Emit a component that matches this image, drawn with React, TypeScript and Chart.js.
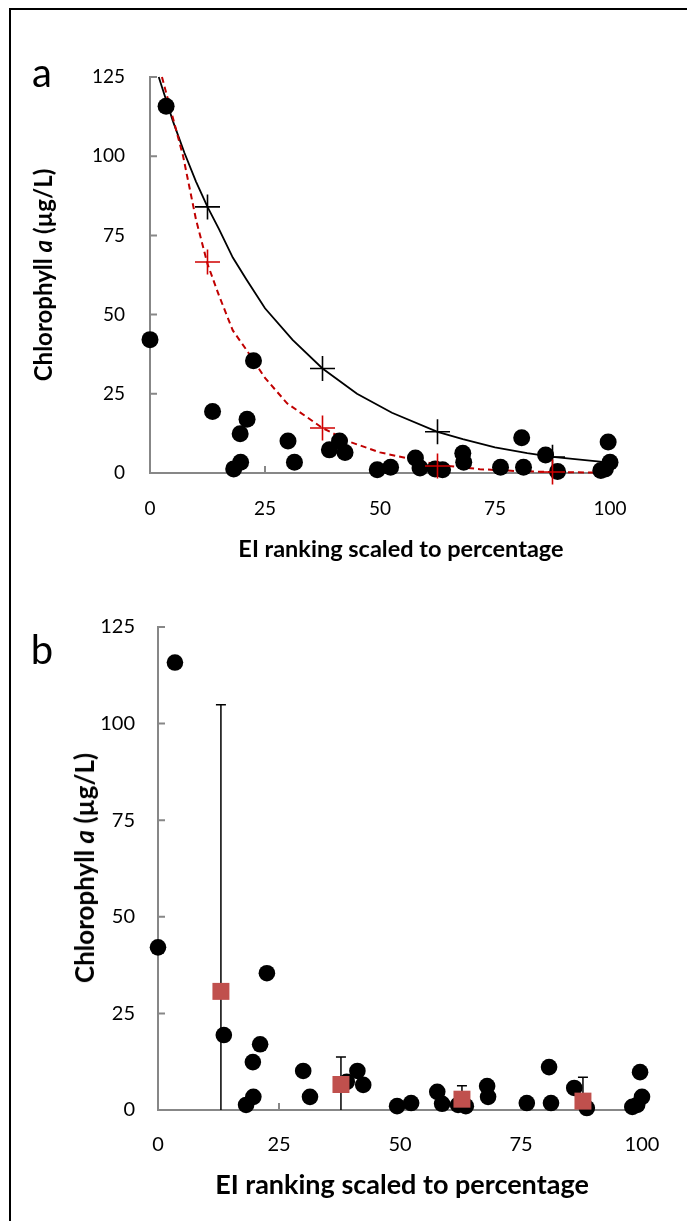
import React, { useEffect, useRef } from 'react';
import { Chart, registerables } from 'chart.js';

Chart.register(...registerables);

const FONT = 'Lato, "Open Sans", sans-serif';
const AXIS_COLOR = '#878787';

// ---- text ----
const xAxisTitle = 'EI ranking scaled to percentage';
const yTitleLead = 'Chlorophyll ';
const yTitleItalic = 'a';
const yTitleTail = ' (µg/L)';
const panelLetters = ['a', 'b'];

// ---- tick labels ----
const xTickValues = [0, 25, 50, 75, 100];
const yTickValues = [0, 25, 50, 75, 100, 125];

// ---- observed sites (both panels) ----
const siteX = [0, 3.5, 13.6, 18.2, 19.7, 19.6, 21.1, 22.5, 30, 31.4, 39, 41.2, 42.4, 49.4, 52.3, 57.7, 58.7, 62, 63.6, 68, 68.2, 76.2, 80.8, 81.2, 86, 88.6, 98, 99, 99.6, 100];
const siteY = [42.1, 115.8, 19.4, 1.3, 3.4, 12.4, 17, 35.4, 10.1, 3.4, 7.3, 10.1, 6.5, 1.0, 1.8, 4.7, 1.6, 1.3, 1.0, 6.2, 3.4, 1.8, 11.1, 1.8, 5.7, 0.5, 0.8, 1.3, 9.8, 3.4];

// ---- panel a: fitted curves ----
const blackCurveX = [1.9, 5, 7.5, 10, 12.5, 15, 18, 21, 25, 31, 37.5, 45, 52.6, 62.5, 68, 75, 82, 87.5, 100];
const blackCurveY = [125, 111, 101, 92, 84, 77, 68, 61, 52, 42, 33, 25, 19, 13, 10.7, 8.1, 6.3, 5.1, 3.3];
const redCurveX = [2.6, 5, 7.2, 10, 12.5, 15, 18, 21, 25, 29.8, 37.5, 43.5, 50, 55.8, 62.5, 71.7, 80, 87.5, 100];
const redCurveY = [125, 112, 100, 80, 66, 56, 45, 38.8, 30, 22, 14.2, 9.8, 6.5, 4.7, 2.6, 1.2, 0.6, 0.3, 0.1];
const binX = [12.5, 37.5, 62.5, 87.5];
const blackFitY = [84, 33, 13, 5];
const redFitY = [66.6, 14.2, 2.2, 0.3];

// ---- panel b: bin means with error ----
const meanX = [13, 37.8, 62.8, 87.8];
const meanY = [30.7, 6.6, 2.8, 2.3];
const meanErr = [74.2, 7.1, 3.5, 6.2];

const pts = (xs: number[], ys: number[]) => xs.map((x, i) => ({ x, y: ys[i] }));

type Geo = {
  w: number; h: number; top: number; right: number;
  yWidth: number; xHeight: number;
  tickSize: number; xTickPad: number; yTickPad: number;
};

const insideTicks = {
  id: 'insideTicks',
  beforeDatasetsDraw(chart: any) {
    const { ctx, chartArea, scales } = chart;
    const xs = scales.x, ys = scales.y;
    ctx.save();
    ctx.strokeStyle = AXIS_COLOR;
    ctx.lineWidth = 2;
    ctx.beginPath();
    xs.ticks.forEach((t: any) => {
      const px = xs.getPixelForValue(t.value);
      ctx.moveTo(px, chartArea.bottom);
      ctx.lineTo(px, chartArea.bottom - 7);
    });
    ys.ticks.forEach((t: any) => {
      const py = ys.getPixelForValue(t.value);
      ctx.moveTo(chartArea.left, py);
      ctx.lineTo(chartArea.left + 7, py);
    });
    ctx.stroke();
    ctx.restore();
  },
};

const errorBars = {
  id: 'errorBars',
  beforeDatasetsDraw(chart: any) {
    if (chart.canvas.dataset.panel !== 'b') return;
    const { ctx, chartArea, scales } = chart;
    const xs = scales.x, ys = scales.y;
    ctx.save();
    ctx.strokeStyle = '#000';
    ctx.lineWidth = 1.5;
    meanX.forEach((mx, i) => {
      const px = xs.getPixelForValue(mx);
      const hi = meanY[i] + meanErr[i];
      const lo = meanY[i] - meanErr[i];
      const pyHi = ys.getPixelForValue(hi);
      const pyLo = Math.min(ys.getPixelForValue(lo), chartArea.bottom);
      ctx.beginPath();
      ctx.moveTo(px, pyLo);
      ctx.lineTo(px, pyHi);
      ctx.moveTo(px - 5, pyHi);
      ctx.lineTo(px + 5, pyHi);
      if (lo >= 0) {
        ctx.moveTo(px - 5, pyLo);
        ctx.lineTo(px + 5, pyLo);
      }
      ctx.stroke();
    });
    ctx.restore();
  },
};

function makeScales(g: Geo) {
  return {
    x: {
      type: 'linear',
      min: 0,
      max: 100,
      afterBuildTicks: (s: any) => { s.ticks = xTickValues.map((v) => ({ value: v })); },
      grid: { display: false },
      border: { display: true, color: AXIS_COLOR, width: 2 },
      ticks: { color: '#000', font: { family: FONT, size: g.tickSize }, padding: g.xTickPad, maxRotation: 0, autoSkip: false },
      title: { display: false, text: xAxisTitle },
      afterFit: (s: any) => { s.height = g.xHeight; s.paddingLeft = 0; s.paddingRight = 0; },
    },
    y: {
      type: 'linear',
      min: 0,
      max: 125,
      afterBuildTicks: (s: any) => { s.ticks = yTickValues.map((v) => ({ value: v })); },
      grid: { display: false },
      border: { display: true, color: AXIS_COLOR, width: 2 },
      ticks: { color: '#000', font: { family: FONT, size: g.tickSize }, padding: g.yTickPad, autoSkip: false },
      afterFit: (s: any) => { s.width = g.yWidth; s.paddingTop = 0; s.paddingBottom = 0; },
    },
  };
}

function makeConfig(panel: string, g: Geo): any {
  const common = {
    animation: false,
    responsive: false,
    devicePixelRatio: 1,
    events: [],
    layout: { padding: { top: g.top, right: g.right, left: 0, bottom: 0 } },
    plugins: { legend: { display: false }, tooltip: { enabled: false }, title: { display: false } },
    scales: makeScales(g),
  };
  const sites = {
    label: 'sites',
    data: pts(siteX, siteY),
    showLine: false,
    pointStyle: 'circle',
    pointRadius: panel === 'a' ? 8.5 : 8.3,
    pointBackgroundColor: '#000',
    pointBorderColor: '#000',
    pointBorderWidth: 0,
    clip: false,
    order: 1,
  };
  let datasets: any[];
  if (panel === 'a') {
    datasets = [
      {
        label: 'red fit points',
        data: pts(binX, redFitY),
        showLine: false,
        pointStyle: 'cross',
        pointRadius: 12.5,
        pointBorderColor: '#D00000',
        pointBorderWidth: 1.6,
        clip: false,
        order: 0,
      },
      sites,
      {
        label: 'red curve',
        data: pts(redCurveX, redCurveY),
        showLine: true,
        borderColor: '#C00000',
        borderWidth: 2,
        borderDash: [6, 4],
        pointRadius: 0,
        tension: 0,
        fill: false,
        clip: false,
        order: 2,
      },
      {
        label: 'black fit points',
        data: pts(binX, blackFitY),
        showLine: false,
        pointStyle: 'cross',
        pointRadius: 12.5,
        pointBorderColor: '#000',
        pointBorderWidth: 1.6,
        clip: false,
        order: 3,
      },
      {
        label: 'black curve',
        data: pts(blackCurveX, blackCurveY),
        showLine: true,
        borderColor: '#000',
        borderWidth: 1.8,
        pointRadius: 0,
        tension: 0,
        fill: false,
        clip: false,
        order: 4,
      },
    ];
  } else {
    datasets = [
      {
        label: 'bin means',
        data: pts(meanX, meanY),
        showLine: false,
        pointStyle: 'rect',
        pointRadius: 12,
        pointBackgroundColor: '#C0504D',
        pointBorderColor: '#C0504D',
        pointBorderWidth: 0,
        clip: false,
        order: 0,
      },
      sites,
    ];
  }
  return { type: 'scatter', data: { datasets }, options: common, plugins: [insideTicks, errorBars] };
}

const geoA: Geo = {
  w: 687, h: 600, top: 77, right: 77, yWidth: 150, xHeight: 127,
  tickSize: 19, xTickPad: 16, yTickPad: 17,
};
const geoB: Geo = {
  w: 687, h: 621, top: 27, right: 45, yWidth: 158, xHeight: 111,
  tickSize: 20, xTickPad: 15, yTickPad: 15,
};

function Panel({ panel, g, top }: { panel: string; g: Geo; top: number }) {
  const ref = useRef<HTMLCanvasElement | null>(null);
  useEffect(() => {
    if (!ref.current) return;
    const chart = new Chart(ref.current, makeConfig(panel, g));
    return () => chart.destroy();
  }, [panel, g]);
  return (
    <canvas
      ref={ref}
      data-panel={panel}
      width={g.w}
      height={g.h}
      style={{ position: 'absolute', left: 0, top, width: g.w, height: g.h, display: 'block' }}
    />
  );
}

function YTitle({ cx, cy, size }: { cx: number; cy: number; size: number }) {
  return (
    <div
      style={{
        position: 'absolute', left: cx, top: cy,
        transform: 'translate(-50%, -50%) rotate(-90deg)',
        whiteSpace: 'nowrap', fontFamily: FONT, fontWeight: 'bold', fontSize: size,
        lineHeight: 1, color: '#000',
      }}
    >
      {yTitleLead}<i>{yTitleItalic}</i>{yTitleTail}
    </div>
  );
}

function XTitle({ cx, cy, size }: { cx: number; cy: number; size: number }) {
  return (
    <div
      style={{
        position: 'absolute', left: cx, top: cy,
        transform: 'translate(-50%, -50%)',
        whiteSpace: 'nowrap', fontFamily: FONT, fontWeight: 'bold', fontSize: size,
        lineHeight: 1, color: '#000',
      }}
    >
      {xAxisTitle}
    </div>
  );
}

function Letter({ cx, cy, text }: { cx: number; cy: number; text: string }) {
  return (
    <div
      style={{
        position: 'absolute', left: cx, top: cy, transform: 'translate(-50%, -50%)',
        fontFamily: FONT, fontSize: 40, lineHeight: 1, color: '#000',
      }}
    >
      {text}
    </div>
  );
}

export default function App() {
  return (
    <div style={{ position: 'absolute', left: 0, top: 0, width: 687, height: 1221, overflow: 'hidden', background: '#fff' }}>
      <div style={{ position: 'absolute', left: 9, top: 8, width: 800, height: 1400, borderLeft: '2px solid #000', borderTop: '2px solid #000' }} />
      <Panel panel="a" g={geoA} top={0} />
      <Panel panel="b" g={geoB} top={600} />
      <YTitle cx={43} cy={275} size={24} />
      <YTitle cx={84} cy={868} size={26} />
      <XTitle cx={401} cy={549} size={23.5} />
      <XTitle cx={402} cy={1183} size={27} />
      <Letter cx={42} cy={72} text={panelLetters[0]} />
      <Letter cx={42} cy={649} text={panelLetters[1]} />
    </div>
  );
}
